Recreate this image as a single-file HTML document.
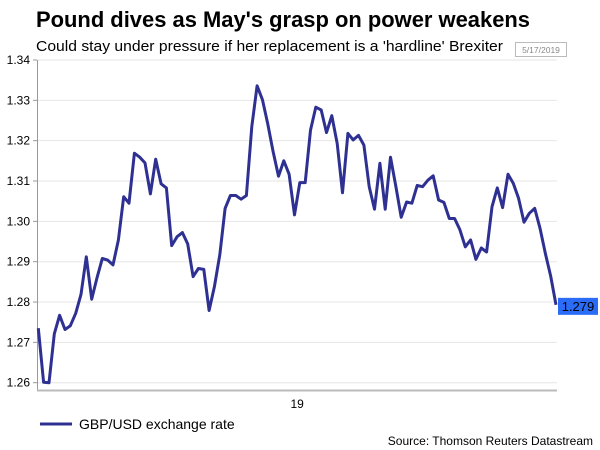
<!DOCTYPE html>
<html><head><meta charset="utf-8"><style>
body{margin:0;background:#fff;}
svg{display:block;font-family:"Liberation Sans",Arial,sans-serif;}
</style></head><body>
<svg width="600" height="450" viewBox="0 0 600 450" xmlns="http://www.w3.org/2000/svg">
<text x="36" y="27" font-size="22" font-weight="bold" fill="#000" textLength="494" lengthAdjust="spacingAndGlyphs">Pound dives as May's grasp on power weakens</text>
<text x="36" y="51" font-size="15" fill="#000" textLength="467" lengthAdjust="spacingAndGlyphs">Could stay under pressure if her replacement is a 'hardline' Brexiter</text>
<rect x="515.5" y="42.5" width="51" height="14" fill="#fff" stroke="#bbb"/>
<text x="541" y="53" font-size="8.5" fill="#888" text-anchor="middle">5/17/2019</text>
<g id="grid"></g>
<g id="yticks"></g>
<line x1="37.5" y1="60" x2="37.5" y2="391" stroke="#999"/>
<line x1="37" y1="390.5" x2="557" y2="390.5" stroke="#bbb" stroke-width="2"/>
<g id="xticks"></g>
<path id="line" fill="none" stroke="#2f3192" stroke-width="3" stroke-linejoin="round"/>
<rect id="lastbox" x="558" width="40" height="17" fill="#2b6cf6"/>
<text id="lasttext" x="578" font-size="13" fill="#000" text-anchor="middle"></text>
<line x1="40" y1="424" x2="72" y2="424" stroke="#2f3192" stroke-width="3"/>
<text x="79" y="429" font-size="14" fill="#000">GBP/USD exchange rate</text>
<text x="593" y="445" font-size="12" fill="#000" text-anchor="end">Source: Thomson Reuters Datastream</text>
</svg>
<script>
const values=[1.2735,1.2601,1.2600,1.2721,1.2767,1.2732,1.2741,1.2772,1.2819,1.2912,1.2807,1.2860,1.2908,1.2904,1.2892,1.2954,1.3061,1.3045,1.3169,1.3159,1.3145,1.3068,1.3154,1.3093,1.3083,1.2940,1.2962,1.2972,1.2944,1.2863,1.2883,1.2881,1.2779,1.2838,1.2917,1.3032,1.3064,1.3064,1.3055,1.3064,1.3235,1.3336,1.3301,1.3241,1.3173,1.3112,1.3150,1.3117,1.3016,1.3096,1.3096,1.3226,1.3283,1.3276,1.3220,1.3262,1.3193,1.3071,1.3218,1.3202,1.3213,1.3189,1.3086,1.3030,1.3144,1.3030,1.3159,1.3086,1.3010,1.3048,1.3045,1.3089,1.3086,1.3102,1.3113,1.3053,1.3047,1.3007,1.3007,1.2979,1.2937,1.2954,1.2906,1.2934,1.2924,1.3036,1.3083,1.3034,1.3117,1.3094,1.3057,1.2998,1.3020,1.3032,1.2983,1.2921,1.2864,1.2793];
const yTicks=[1.26,1.27,1.28,1.29,1.30,1.31,1.32,1.33,1.34];
const xTickLabels=["19"];
const xTickIndex=[48.5];
const lastLabel="1.279";
const NS="http://www.w3.org/2000/svg";
const x0=38.3,x1=556,yMin=1.26,yMax=1.34,yTop=60,yBot=382.7;
function X(i){return x0+(x1-x0)*i/(values.length-1);}
function Y(v){return yBot-(v-yMin)/(yMax-yMin)*(yBot-yTop);}
const grid=document.getElementById('grid'),yt=document.getElementById('yticks'),xt=document.getElementById('xticks');
yTicks.forEach(v=>{
  const l=document.createElementNS(NS,'line');
  l.setAttribute('x1',38);l.setAttribute('x2',557);l.setAttribute('y1',Y(v));l.setAttribute('y2',Y(v));
  l.setAttribute('stroke','#e6e6e6');
  
  
  grid.appendChild(l);
  const tm=document.createElementNS(NS,'line');
  tm.setAttribute('x1',33);tm.setAttribute('x2',37);tm.setAttribute('y1',Y(v));tm.setAttribute('y2',Y(v));
  tm.setAttribute('stroke','#999');
  
  
  yt.appendChild(tm);
  const t=document.createElementNS(NS,'text');
  t.setAttribute('x',30);t.setAttribute('y',Y(v)+4);t.setAttribute('font-size','12');t.setAttribute('text-anchor','end');t.setAttribute('fill','#000');
  t.textContent=v.toFixed(2);
  
  
  yt.appendChild(t);
});
xTickLabels.forEach((s,k)=>{
  const t=document.createElementNS(NS,'text');
  t.setAttribute('x',X(xTickIndex[k]));t.setAttribute('y',408);t.setAttribute('font-size','12');t.setAttribute('text-anchor','middle');t.setAttribute('fill','#000');
  t.textContent=s;
  
  
  xt.appendChild(t);
});
document.getElementById('line').setAttribute('d',values.map((v,i)=>(i?'L':'M')+X(i).toFixed(1)+','+Y(v).toFixed(1)).join(''));
const ly=Y(values[values.length-1]);
document.getElementById('lastbox').setAttribute('y',ly-7);
const lt=document.getElementById('lasttext');lt.setAttribute('y',ly+6);lt.textContent=lastLabel;
</script>
</body></html>
